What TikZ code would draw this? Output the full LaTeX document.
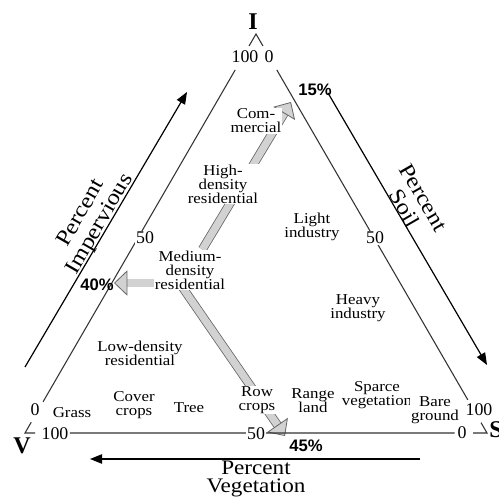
\documentclass[tikz,border=0pt]{standalone}
\usepackage{fontspec}
\setmainfont{Liberation Serif}
\newfontfamily\lblfont{Liberation Serif}[FakeStretch=1.12]
\newfontfamily\pctfont{Liberation Sans}
\usetikzlibrary{arrows.meta,calc,backgrounds}

\tikzset{every picture/.style={line width=0.75pt}}
\tikzset{
  region/.style={inner sep=0.75pt, fill=white, align=center, font=\lblfont\fontsize{11.3}{10.4}\selectfont},
  tick/.style={inner sep=0.75pt, fill=white, font=\fontsize{13.4}{14}\selectfont},
  corner/.style={inner sep=0.75pt, font=\bfseries\fontsize{18}{18}\selectfont},
  pct/.style={inner sep=0.75pt, font=\pctfont\bfseries\fontsize{12.5}{13}\selectfont},
  axislabel/.style={inner sep=0.75pt, align=center, font=\lblfont\fontsize{16.5}{16.5}\selectfont},
  axisarrow/.style={-{Triangle[length=9pt,width=7pt]}, line width=0.9pt},
  side/.style={line width=0.8pt, draw=black!80},
  grayarrow/.style={draw=black!60, line width=0.6pt, double=gray!35, double distance=5.5pt, -{Triangle[length=10pt,width=19pt,fill=gray!35]}},
}

\begin{document}
\begin{tikzpicture}[x=0.75pt,y=0.75pt,yscale=-1,xscale=1]
\useasboundingbox (0,0) rectangle (499,498);

% corners of the triangle
\coordinate (I) at (256,34);
\coordinate (V) at (25,433);
\coordinate (S) at (487,433);

% sides, open at the corners
\draw[side] ($(I)!0.09!(V)$) -- ($(I)!0.922!(V)$);
\draw[side] ($(I)!0.09!(S)$) -- ($(I)!0.917!(S)$);
\draw[side] ($(V)!0.097!(S)$) -- ($(V)!0.93!(S)$);
% corner marks
\draw[side] ($(I)!0.03!(V)$) -- (I) -- ($(I)!0.03!(S)$);
\draw[side] ($(V)!0.027!(I)$) -- (V) -- ($(V)!0.022!(S)$);
\draw[side] ($(S)!0.026!(I)$) -- (S) -- ($(S)!0.03!(V)$);

% corner letters and scale numbers
\node[corner] (lI) at (253,22) {I};
\node[corner] (lV) at (22,446) {V};
\node[corner] (lS) at (496,430) {S};
\node[tick] (i100) at (245,57) {100};
\node[tick] (i0) at (269,57) {0};
\node[tick] (l50) at (145,238) {50};
\node[tick] (r50) at (375,238) {50};
\node[tick] (v0) at (35,410) {0};
\node[tick] (v100) at (55,434) {100};
\node[tick] (b50) at (256,434) {50};
\node[tick] (s100) at (479,410) {100};
\node[tick] (s0) at (462,433) {0};

% land cover classes
\node[region] (com) at (256,121) {Com-\\mercial};
\node[region] (high) at (223,184) {High-\\density\\residential};
\node[region] (light) at (312,227) {Light\\industry};
\node[region] (med) at (190,270) {Medium-\\density\\residential};
\node[region] (heavy) at (358,308) {Heavy\\industry};
\node[region] (low) at (140,353) {Low-density\\residential};
\node[region] (grass) at (72,413) {Grass};
\node[region] (cover) at (134,405) {Cover\\crops};
\node[region] (tree) at (189,408) {Tree};
\node[region] (row) at (257,400) {Row\\crops};
\node[region] (range) at (313,401) {Range\\land};
\node[region] (sparce) at (377,395) {Sparce\\vegetation};
\node[region] (bare) at (435,410) {Bare\\ground};

% percentages
\node[pct] (p15) at (315,90) {15\%};
\node[pct] (p40) at (97,285) {40\%};
\node[pct] (p45) at (306,446) {45\%};

% axis names and arrows
\node[axislabel, rotate=60] (imp) at (91,219) {Percent\\Impervious};
\node[axislabel, rotate=-60] (soil) at (414,203) {Percent\\Soil};
\node[axislabel, font=\lblfont\fontsize{15.5}{14}\selectfont] (veg) at (256,479) {Percent\\Vegetation};

\coordinate (impA) at (25,367);
\coordinate (impB) at (187,92);
\coordinate (soilA) at (328,93);
\coordinate (soilB) at (487,365);
\coordinate (vegA) at (420,459);
\coordinate (vegB) at (90,459);
\draw[axisarrow] (impA) -- (impB);
\draw[axisarrow] (soilA) -- (soilB);
\draw[axisarrow] (vegA) -- (vegB);

% gray arrows out of medium density
\coordinate (comtip) at (291,102);
\coordinate (pcttip) at (114,283);
\coordinate (dnstart) at (176,278);
\coordinate (dntip) at (285,436);
\begin{pgfonlayer}{background}
\draw[grayarrow] (med) -- (comtip);
\draw[grayarrow] (med.center |- pcttip) -- (pcttip);
\draw[grayarrow] (dnstart) -- (dntip);
\end{pgfonlayer}

\end{tikzpicture}
\end{document}
